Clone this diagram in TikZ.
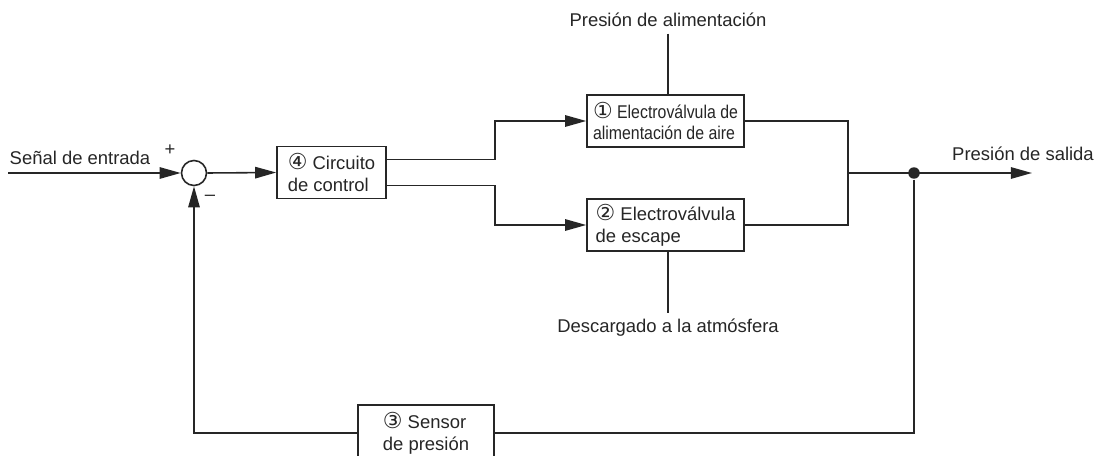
\documentclass[tikz,border=0pt]{standalone}
\usepackage{fontspec}
\setmainfont{Liberation Sans}
\newfontfamily\circfont{DejaVu Sans}
\usepackage{tikz}
\usetikzlibrary{arrows.meta}
\newcommand{\cnum}[1]{{\circfont\fontsize{12.5}{12.5}\selectfont #1}}

\begin{document}
\begin{tikzpicture}[x=0.02cm, y=-0.02cm, line width=0.9pt, color=black!85,
    every node/.style={font=\fontsize{10.5}{12.5}\selectfont},
    blk/.style={draw, minimum height=1.04cm, align=left, inner sep=2pt},
    arr/.style={-{Triangle[length=12pt,width=6.5pt]}}]
    \useasboundingbox (0, 0) rectangle (1103, 456); % page size
    \node[circle, draw, minimum size=0.5cm, inner sep=0] (sum) at (194, 173) {};
    \node[blk, minimum width=2.18cm] (ctrl) at (331.5, 172.5) {\cnum{④} Circuito\\de control};
    \node[blk, minimum width=3.14cm, font=\fontsize{10.5}{12.5}\selectfont\addfontfeatures{FakeStretch=0.86}]
        (valve1) at (665.5, 121) {\cnum{①} Electroválvula de\\alimentación de aire};
    \node[blk, minimum width=3.14cm] (valve2) at (665.5, 225) {\cnum{②} Electroválvula\\de escape};
    \node[blk, minimum width=2.72cm, minimum height=1.12cm] (sensor) at (426, 433) {\cnum{③} Sensor\\de presión};
    \node[circle, fill, inner sep=0, minimum size=0.23cm] (tap) at (914, 173) {};
    \coordinate (in) at (8, 173);
    \coordinate (mix) at (848, 173);
    \coordinate (out) at (1032, 173);
    \node (inlabel) at (80, 158) {Señal de entrada};
    \node (plus) at (170, 150) {+};
    \node (minus) at (210, 198) {\textendash};
    \node (supply) at (668, 20) {Presión de alimentación};
    \node (exhaust) at (668, 328) {Descargado a la atmósfera};
    \node (outlabel) at (1023, 154) {Presión de salida};

    \draw[arr] (in) -- (sum.west);
    \draw[arr] (sum.east) -- (ctrl.west);
    \draw[arr] ([yshift=2.6mm]ctrl.east) -- ++(108, 0) |- (valve1.west);
    \draw[arr] ([yshift=-2.6mm]ctrl.east) -- ++(108, 0) |- (valve2.west);
    \draw (supply.south) -- (supply.south |- valve1.north);
    \draw (valve2.south -| exhaust.north) -- (exhaust.north);
    \draw (valve1.east) -| (mix) |- (valve2.east);
    \draw[arr] (mix) -- (out);
    \draw (tap) |- (sensor.east);
    \draw[arr] (sensor.west) -| (sum.south);
\end{tikzpicture}
\end{document}
